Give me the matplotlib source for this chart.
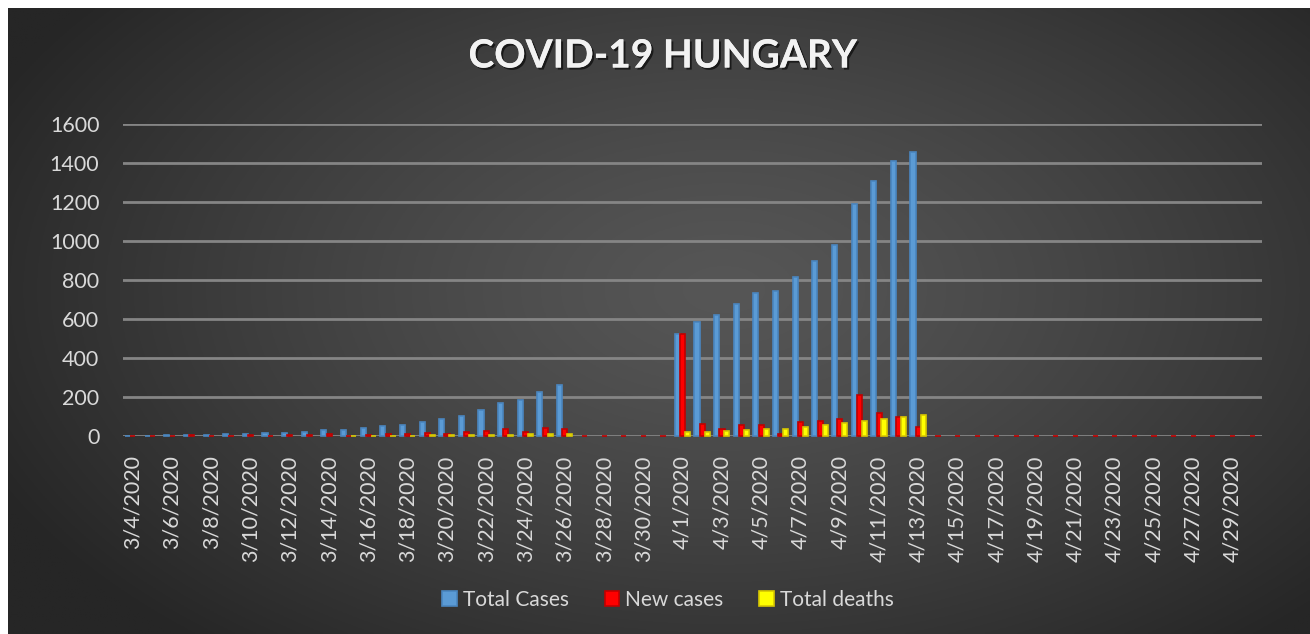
import numpy as np
import pandas as pd
import matplotlib.pyplot as plt
import matplotlib.patheffects as pe

plt.rcParams['font.family'] = ['Lato', 'DejaVu Sans']

# Daily figures, 3/4/2020 .. 4/30/2020 (None = no entry that day)
dates = pd.date_range('2020-03-04', '2020-04-30')
date_labels = [f"{d.month}/{d.day}/{d.year}" for d in dates]

total_cases = ([2, 2, 4, 7, 7, 9, 12, 13, 16, 19, 30, 32, 39, 50, 58, 73, 85, 103,
                131, 167, 187, 226, 261] + [None] * 5 +
               [525, 585, 623, 678, 733, 744, 817, 895, 980, 1190, 1310, 1410, 1458] +
               [None] * 17)
new_cases = ([2, 0, 2, 3, 0, 2, 3, 1, 3, 3, 11, 2, 7, 11, 8, 15, 12, 18,
              28, 36, 20, 39, 35] + [0] * 5 +
             [525, 60, 38, 55, 55, 11, 73, 78, 85, 210, 120, 100, 48] +
             [0] * 17)
total_deaths = ([None] * 11 + [1, 1, 1, 1, 3, 3, 4, 6, 7, 9, 10, 10] + [None] * 5 +
                [20, 21, 26, 32, 34, 38, 47, 58, 66, 77, 85, 99, 109] +
                [None] * 17)

W, H = 1310, 634
fig = plt.figure(figsize=(W / 100, H / 100), dpi=100, facecolor='white')

# dark radial gradient backdrop
bg = fig.add_axes([8 / W, 0, (W - 8) / W, (H - 8) / H], zorder=0)
yy, xx = np.mgrid[0:1:300j, 0:1:600j]
r = np.sqrt(((xx - 0.55) / 0.62) ** 2 + ((yy - 0.45) / 0.75) ** 2)
r = np.clip(r, 0, 1)
inner, outer = 0x56 / 255, 0x26 / 255
shade = inner + (outer - inner) * r ** 1.3
bg.imshow(np.dstack([shade] * 3), aspect='auto', extent=[0, 1, 0, 1])
bg.axis('off')

ax = fig.add_axes([123 / W, (H - 436) / H, 1139 / W, 312 / H], zorder=1)
ax.patch.set_visible(False)

x = np.arange(len(dates))
series = [
    (total_cases, -0.27, '#5b9bd5', '#4a86c0', 'Total Cases'),
    (new_cases, 0.0, '#ff0000', '#c00000', 'New cases'),
    (total_deaths, 0.25, '#ffff00', '#d8c800', 'Total deaths'),
]
for vals, off, col, edge, name in series:
    xs = [xi + off for xi, v in zip(x, vals) if v is not None]
    hs = [v for v in vals if v is not None]
    bars = ax.bar(xs, hs, width=0.26, color=col, edgecolor=edge, linewidth=1.2,
                  label=name, zorder=3)
    for b in bars:
        b.set_clip_on(False)

ax.set_xlim(-0.5, len(dates) - 0.5)
ax.set_ylim(0, 1600)
ax.set_yticks(range(0, 1601, 200))
ax.grid(axis='y', color='#858585', linewidth=2)
ax.set_axisbelow(True)
for s in ax.spines.values():
    s.set_visible(False)

ax.set_xticks(x[::2])
ax.set_xticklabels(date_labels[::2], rotation=90)
ax.tick_params(axis='both', length=0, colors='#d9d9d9', labelsize=15.5)
ax.tick_params(axis='y', pad=17)
ax.tick_params(axis='x', pad=14)

leg = fig.legend(loc='center', bbox_to_anchor=(668 / W, 1 - 600 / H), ncol=3,
                 frameon=False, fontsize=15, handlelength=0.7, handleheight=0.7,
                 handletextpad=0.3, columnspacing=1.7)
for t in leg.get_texts():
    t.set_color('#d9d9d9')

fig.text(663 / W, 1 - 56 / H, 'COVID-19 HUNGARY', ha='center', va='center',
         fontsize=28, fontweight='bold', color='#f2f2f2',
         path_effects=[pe.withSimplePatchShadow(offset=(1.5, -1.5),
                                                shadow_rgbFace='black', alpha=0.6),
                       pe.Normal()])

fig.savefig('out.png', dpi=100, facecolor='white')
